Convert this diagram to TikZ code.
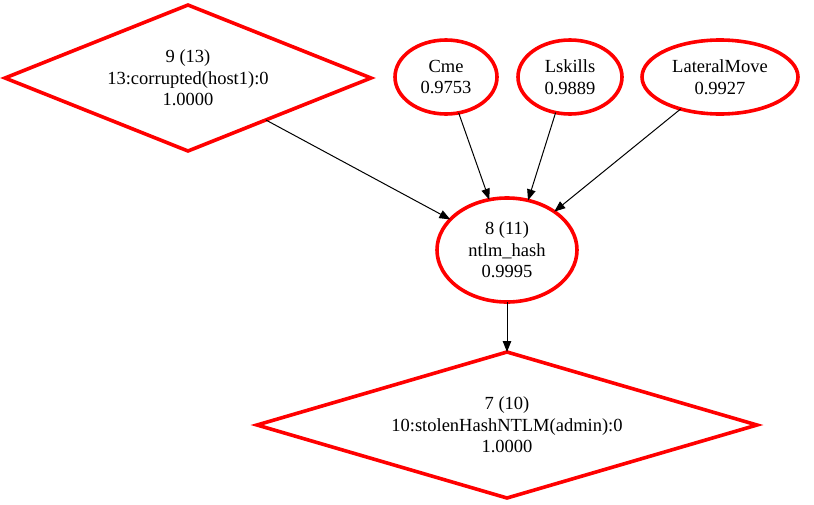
\documentclass[tikz,border=0pt]{standalone}
\usepackage{fontspec}
\setmainfont{Liberation Serif}
\usetikzlibrary{shapes.geometric,arrows.meta}
\begin{document}
\begin{tikzpicture}[x=1pt,y=-1pt,
  every node/.style={font=\fontsize{18.5}{21.5}\selectfont, align=center, inner sep=0pt, outer sep=0pt},
  redline/.style={draw=red, line width=3.6pt},
  dianode/.style={redline, diamond},
  ellnode/.style={redline, ellipse},
  edge/.style={draw=black, line width=1pt, -{Triangle[length=11pt,width=8.5pt]}}]
\useasboundingbox (0,0) rectangle (814,504);
\node[dianode, aspect=2.5, minimum width=366pt, minimum height=146pt] (n9) at (188,78) {9 (13)\\13:corrupted(host1):0\\1.0000};
\node[ellnode, minimum width=102pt, minimum height=74pt] (cme) at (446,77) {Cme\\0.9753};
\node[ellnode, minimum width=104pt, minimum height=74pt] (lsk) at (570,77) {Lskills\\0.9889};
\node[ellnode, minimum width=156pt, minimum height=74pt] (lat) at (720,77) {LateralMove\\0.9927};
\node[ellnode, minimum width=140pt, minimum height=104pt] (n8) at (507,250) {8 (11)\\ntlm\_hash\\0.9995};
\node[dianode, aspect=3.42, minimum width=500pt, minimum height=146pt] (n7) at (507,425) {7 (10)\\10:stolenHashNTLM(admin):0\\1.0000};
\draw[edge] (n9) -- (n8);
\draw[edge] (cme) -- (n8);
\draw[edge] (lsk.248) -- (n8.67);
\draw[edge] (lat) -- (n8);
\draw[edge] (n8) -- (n7);
\end{tikzpicture}
\end{document}
